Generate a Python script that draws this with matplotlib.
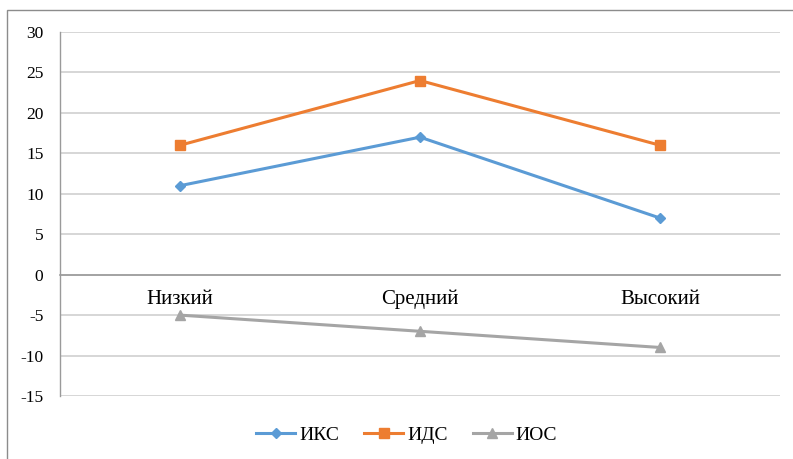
import matplotlib
matplotlib.use("Agg")
import matplotlib.pyplot as plt
from matplotlib.patches import Rectangle

categories = ["Низкий", "Средний", "Высокий"]
iks = [11, 17, 7]
ids = [16, 24, 16]
ios = [-5, -7, -9]
series_names = ["ИКС", "ИДС", "ИОС"]
yticks = [-15, -10, -5, 0, 5, 10, 15, 20, 25, 30]

plt.rcParams['font.family'] = ['Liberation Serif', 'DejaVu Serif']

fig = plt.figure(figsize=(7.93, 4.59), dpi=100)
fig.patches.append(Rectangle((7/793, -0.05), 1.0, 1.05 - 10/459, transform=fig.transFigure,
                             fill=False, edgecolor='#8c8c8c', linewidth=1.0))
ax = fig.add_axes([60/793, 1-396/459, 720/793, 364/459])

x = list(range(len(categories)))
ax.plot(x, iks, color='#5B9BD5', marker='D', markersize=5, linewidth=2.2, label=series_names[0])
ax.plot(x, ids, color='#ED7D31', marker='s', markersize=6.5, linewidth=2.2, label=series_names[1])
ax.plot(x, ios, color='#A5A5A5', marker='^', markersize=7, linewidth=2.2, label=series_names[2])

ax.set_xlim(-0.5, 2.5)
ax.set_ylim(-15, 30)
ax.set_yticks(yticks)
ax.set_yticklabels([str(v) for v in yticks])
ax.set_xticks(x)
ax.set_xticklabels(categories)
ax.tick_params(axis='both', length=0)
ax.tick_params(axis='y', pad=12, labelsize=12.5)
ax.tick_params(axis='x', pad=11, labelsize=15)
ax.grid(axis='y', color='#d0d0d0', linewidth=1.2)
ax.set_axisbelow(True)
for s in ['top', 'right']:
    ax.spines[s].set_visible(False)
ax.spines['bottom'].set_position(('data', 0))
ax.spines['bottom'].set_color('#9a9a9a')
ax.spines['bottom'].set_linewidth(1.2)
ax.spines['left'].set_color('#9a9a9a')
ax.spines['left'].set_linewidth(1.0)

fig.legend(loc='center', bbox_to_anchor=(0.513, 1-435/459), ncol=3, frameon=False,
           fontsize=14, handlelength=2.0, columnspacing=1.3, handletextpad=0.2)

fig.savefig('out.png', dpi=100)
